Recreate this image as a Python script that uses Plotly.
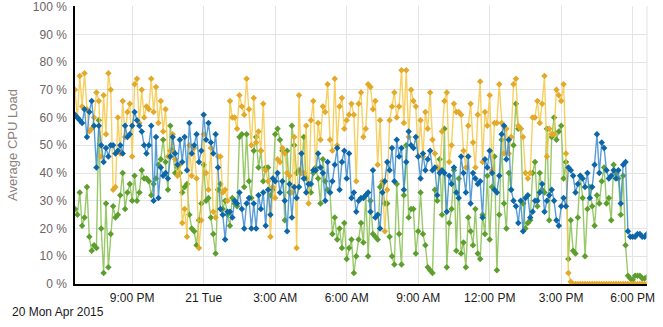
import pandas as pd
import plotly.graph_objects as go

# ---- data -------------------------------------------------------------
start_time = "2015-04-20 18:36"
step = "6min"

orange_vals = (
    [70, 60, 75, 64, 76, 63, 55, 56, 60, 69, 66, 46, 68, 54, 76, 70, 34, 35, 60, 47, 66, 53, 62, 65, 46, 72, 74, 58, 70, 60, 64]
    + [63, 74, 62, 71, 58, 66, 55, 63, 46, 48, 54, 45, 39, 43, 22, 27, 17, 50, 39, 49, 38, 13, 23, 54, 40, 34, 49, 26, 24, 46]
    + [46, 33, 34, 30, 66, 60, 60, 56, 68, 64, 61, 74, 63, 50, 67, 51, 55, 48, 65, 41, 37, 17, 35, 31, 45, 44, 49, 47, 40, 39]
    + [33, 53, 13, 68, 40, 40, 57, 29, 59, 66, 41, 58, 52, 64, 62, 72, 52, 48, 74, 50, 64, 67, 56, 59, 61, 65, 61, 37, 65, 69]
    + [53, 56, 72, 71, 63, 66, 43, 59, 37, 19, 34, 59, 64, 69, 60, 64, 77, 58, 77, 53, 70, 66, 64, 46, 59, 46, 62, 56, 69, 52]
    + [47, 42, 41, 55, 66, 69, 44, 50, 65, 62, 62, 61, 48, 42, 57, 65, 51, 42, 61, 73, 44, 62, 57, 68, 41, 58, 58, 72, 58, 47, 56]
    + [47, 53, 72, 74, 57, 56, 53, 40, 38, 40, 60, 60, 66, 58, 65, 75, 46, 56, 54, 54, 70, 68, 66, 72, 47, 4, 0.8, 0, 0, 0]
    + [0, 0, 0, 0, 0, 0, 0, 0, 0, 0, 0, 0, 0, 0, 0, 0, 0, 0, 0, 0,
       0, 0, 0, 0, 0, 0, 0, 0, 0]
)

blue_vals = (
    [61, 60, 59, 58, 63, 53, 62, 66, 57, 42, 57, 50, 44, 49, 46, 50, 50, 47, 48, 50, 47, 57, 53, 54, 57, 62, 59, 57, 55, 50, 47]
    + [50, 57, 30, 53, 31, 42, 39, 40, 38, 46, 53, 47, 43, 52, 44, 53, 41, 58, 47, 50, 54, 44, 48, 61, 52, 58, 51, 47, 54, 42]
    + [27, 25, 16, 26, 26, 24, 30, 29, 33, 27, 20, 29, 31, 20, 29, 20, 32, 27, 33, 21, 34, 25, 38, 37, 40, 33, 37, 30, 19, 36]
    + [24, 35, 31, 35, 47, 38, 33, 36, 36, 41, 41, 47, 42, 40, 30, 44, 33, 37, 43, 49, 34, 44, 48, 38, 47, 31, 33, 26, 30, 31]
    + [31, 32, 33, 26, 41, 24, 25, 20, 33, 37, 44, 41, 49, 37, 52, 46, 49, 34, 44, 55, 50, 49, 53, 46, 38, 47, 41, 45, 48, 41]
    + [42, 32, 40, 41, 40, 26, 39, 36, 42, 33, 31, 46, 40, 33, 46, 29, 40, 38, 36, 37, 24, 45, 42, 48, 40, 34, 33, 39, 54, 57, 45]
    + [52, 34, 30, 28, 22, 30, 19, 31, 32, 24, 26, 30, 30, 33, 36, 26, 30, 32, 34, 30, 23, 21, 28, 31, 28, 42, 41, 39, 33, 36]
    + [39, 38, 35, 40, 31, 35, 43, 54, 40, 51, 49, 41, 38, 39, 41, 38, 41, 29, 43, 44, 19, 17, 17, 17, 18, 18, 17, 17, 18]
)

green_vals = (
    [27, 25, 33, 21, 24, 35, 17, 12, 14, 13, 59, 20, 4, 29, 6, 18, 28, 24, 25, 32, 40, 27, 33, 36, 30, 39, 30, 33, 41, 38, 38]
    + [37, 32, 36, 38, 43, 45, 52, 44, 34, 57, 48, 40, 42, 40, 33, 35, 36, 25, 20, 19, 14, 23, 29, 43, 30, 31, 24, 18, 11, 34]
    + [36, 27, 30, 25, 21, 31, 29, 28, 53, 54, 35, 54, 37, 31, 48, 53, 42, 48, 37, 42, 42, 32, 34, 54, 56, 52, 48, 23, 48, 33]
    + [57, 50, 40, 41, 40, 53, 38, 36, 33, 40, 42, 38, 29, 45, 37, 34, 33, 18, 24, 16, 20, 13, 22, 9, 13, 16, 4, 10, 16, 22]
    + [15, 32, 10, 30, 18, 17, 16, 35, 36, 29, 29, 17, 10, 7, 36, 18, 7, 32, 50, 24, 27, 27, 11, 19, 33, 18, 14, 6, 5, 4]
    + [34, 30, 45, 25, 56, 6, 22, 27, 41, 12, 38, 11, 15, 6, 24, 19, 14, 27, 11, 9, 25, 18, 39, 16, 35, 46, 5, 25, 52, 29, 20]
    + [40, 34, 50, 65, 56, 56, 29, 20, 22, 23, 40, 44, 28, 40, 34, 33, 56, 23, 53, 60, 52, 55, 57, 38, 44, 9, 23, 12, 11, 24]
    + [39, 31, 10, 27, 35, 28, 21, 32, 29, 37, 42, 29, 31, 23, 43, 40, 38, 25, 39, 14, 3, 2, 1.5, 3, 3, 3, 2, 2, 2.5]
)

tick_times = ["2015-04-20 21:00", "2015-04-21 00:00", "2015-04-21 03:00", "2015-04-21 06:00",
              "2015-04-21 09:00", "2015-04-21 12:00", "2015-04-21 15:00", "2015-04-21 18:00"]
tick_labels = ["9:00 PM", "21 Tue", "3:00 AM", "6:00 AM", "9:00 AM", "12:00 PM", "3:00 PM", "6:00 PM"]
y_ticks = [0, 10, 20, 30, 40, 50, 60, 70, 80, 90, 100]
y_labels = [f"{v} %" for v in y_ticks]
date_label = "20 Mon Apr 2015"
y_title = "Average CPU Load"

n = len(blue_vals)
times = pd.date_range(start_time, periods=n, freq=step)

series = [
    ("green", green_vals, "rgba(135,192,80,0.85)", "#5e9e2e"),
    ("orange", orange_vals, "rgba(245,200,70,0.85)", "#e2a92a"),
    ("blue", blue_vals, "rgba(60,140,205,0.85)", "#0c66a8"),
]

fig = go.Figure()
for name, vals, lcol, mcol in series:
    fig.add_trace(go.Scatter(
        x=times[:len(vals)], y=vals, mode="lines+markers", name=name,
        line=dict(color=lcol, width=1.4),
        marker=dict(symbol="diamond", size=5, color=mcol, line=dict(width=0)),
        showlegend=False,
    ))

font_family = "Liberation Sans, Arial, sans-serif"

fig.update_layout(
    width=663, height=327,
    margin=dict(l=75, r=16, t=6, b=43, autoexpand=False),
    paper_bgcolor="white", plot_bgcolor="white",
    font=dict(family=font_family, size=12, color="#222"),
    xaxis=dict(
        type="date",
        range=[times[0], times[-1]],
        tickvals=tick_times, ticktext=tick_labels,
        showgrid=True, gridcolor="#e4e4e4", gridwidth=1,
        showline=True, linecolor="black", linewidth=2,
        ticks="outside", ticklen=2, tickcolor="rgba(0,0,0,0)",
        tickfont=dict(size=12, color="#1a1a1a"),
        zeroline=False, automargin=False,
    ),
    yaxis=dict(
        range=[0, 100.2],
        tickvals=y_ticks, ticktext=y_labels,
        ticklabeloverflow="allow",
        showgrid=True, gridcolor="#e4e4e4", gridwidth=1,
        showline=True, linecolor="black", linewidth=1.5,
        ticks="outside", ticklen=4, tickcolor="rgba(0,0,0,0)",
        tickfont=dict(size=12, color="#6b6464"),
        title=dict(text=y_title, font=dict(size=13, color="#8a8080"), standoff=12),
        zeroline=False, automargin=False,
    ),
    shapes=[dict(type="line", xref="paper", yref="paper", x0=1, x1=1, y0=0, y1=1,
                 line=dict(color="#e4e4e4", width=1))],
    annotations=[dict(text=date_label, xref="paper", yref="paper", x=-0.114, y=-0.10,
                      xanchor="left", yanchor="middle", showarrow=False,
                      font=dict(size=12, color="#1a1a1a"))],
)

fig.write_html("out.html")
